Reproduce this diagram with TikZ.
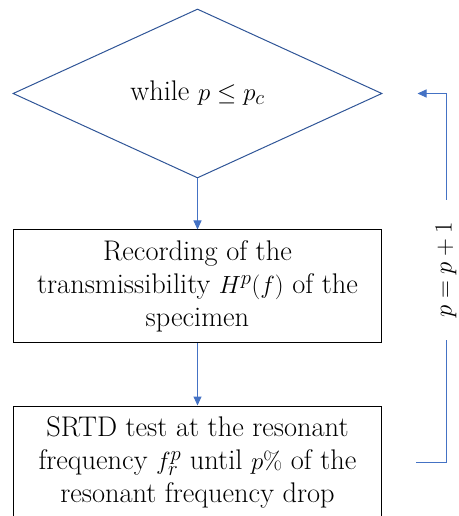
\documentclass[tikz,border=0pt]{standalone}
\usetikzlibrary{positioning, arrows.meta, shapes.geometric}
\definecolor{darkblue}{HTML}{2F5597}
\definecolor{lightblue}{HTML}{4472C4}
\tikzset{
    decision/.style={draw=darkblue, line width=1bp, diamond, aspect=2.18, minimum width=369bp, minimum height=169bp, inner sep=0pt, font=\fontsize{28.5}{33}\selectfont},
    stepbox/.style={draw, line width=1bp, minimum width=368bp, minimum height=113bp, align=center, font=\fontsize{28.5}{33}\selectfont},
    flow/.style={draw=lightblue, line width=1bp, -{Triangle[length=9bp, width=8bp]}},
    looplabel/.style={rotate=90, fill=white, inner xsep=22bp, font=\fontsize{28.5}{33}\selectfont}
}
\begin{document}
\begin{tikzpicture}[x=1bp, y=1bp, node distance=51bp]
  \useasboundingbox (0,0) rectangle (459,516);
  \node(cond)[decision] at (197.5,422.5){while $p\le p_c$};
  \node(rec)[stepbox, below=51bp of cond]{Recording of the\\transmissibility $H^p(f)$ of the\\specimen};
  \node(srtd)[stepbox, below=62bp of rec]{SRTD test at the resonant\\frequency $f_r^p$ until $p\%$ of the\\resonant frequency drop};
  \coordinate[right=34bp of srtd.east](back);
  \coordinate[right=30bp of back](turn);
  \coordinate[right=35bp of cond.east](again);
  \draw[flow](cond)--(rec);
  \draw[flow](rec)--(srtd);
  \draw[flow](back)--(turn)--node[looplabel, pos=.522]{$p=p+1$}(turn|-again)--(again);
\end{tikzpicture}
\end{document}
